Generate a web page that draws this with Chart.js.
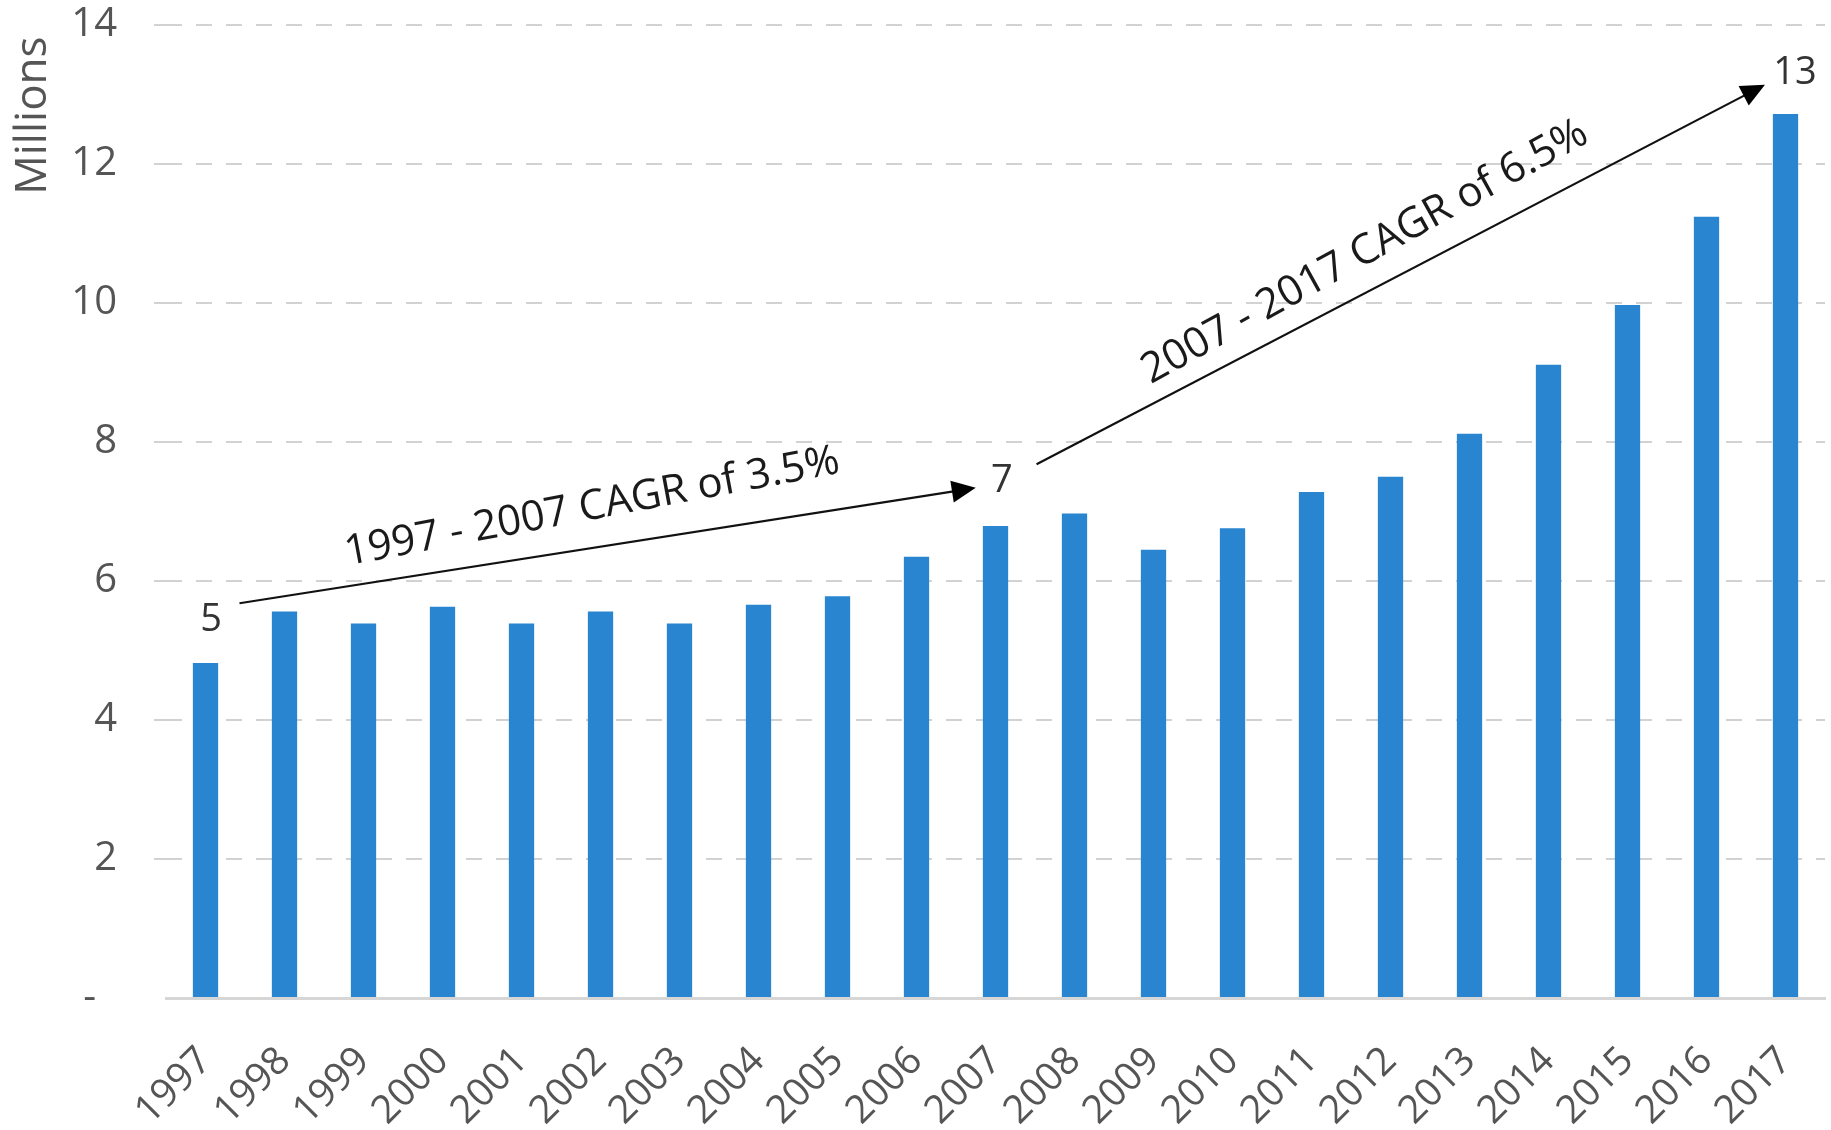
<!DOCTYPE html>
<html>
<head>
<meta charset="utf-8">
<script src="https://cdn.jsdelivr.net/npm/chart.js@4/dist/chart.umd.min.js"></script>
<style>
  html, body { margin: 0; padding: 0; background: #ffffff; }
  canvas { display: block; }
</style>
</head>
<body>
<canvas id="chart" width="1831" height="1130"></canvas>
<script>
// yearly totals, in millions
const years = ['1997', '1998', '1999', '2000', '2001', '2002', '2003', '2004', '2005', '2006', '2007',
               '2008', '2009', '2010', '2011', '2012', '2013', '2014', '2015', '2016', '2017'];
const totals = [4.82, 5.56, 5.39, 5.63, 5.39, 5.56, 5.39, 5.66, 5.78, 6.35, 6.79,
                6.97, 6.45, 6.76, 7.28, 7.50, 8.12, 9.11, 9.97, 11.24, 12.72];
const yTicks = [0, 2, 4, 6, 8, 10, 12, 14];

// growth arrows: [startIndex, startValue, endIndex, endValue]
const arrowSpans = [
  [0.43, 5.68, 9.75, 7.34],
  [10.52, 7.68, 19.74, 13.14]
];
const arrowLabels = ['1997 - 2007 CAGR of 3.5%', '2007 - 2017 CAGR of 6.5%'];
// rounded totals shown beside the arrow ends: [index into totals, x offset (categories), y offset (millions)]
const pointLabels = [[0, 0.07, 0.61], [10, 0.08, 0.64], [20, 0.12, 0.59]];

const FONT = "'Open Sans', 'Liberation Sans', sans-serif";

const cagrArrows = {
  id: 'cagrArrows',
  afterDatasetsDraw(chart) {
    const { ctx, scales: { x, y } } = chart;
    ctx.save();

    arrowSpans.forEach((s, i) => {
      const x1 = x.getPixelForValue(s[0]), y1 = y.getPixelForValue(s[1]);
      const x2 = x.getPixelForValue(s[2]), y2 = y.getPixelForValue(s[3]);
      const ang = Math.atan2(y2 - y1, x2 - x1);
      const head = 24;

      ctx.strokeStyle = '#111';
      ctx.lineWidth = 2.2;
      ctx.beginPath();
      ctx.moveTo(x1, y1);
      ctx.lineTo(x2 - Math.cos(ang) * head * 0.8, y2 - Math.sin(ang) * head * 0.8);
      ctx.stroke();

      ctx.fillStyle = '#000';
      ctx.beginPath();
      ctx.moveTo(x2, y2);
      ctx.lineTo(x2 - head * Math.cos(ang) + 11 * Math.sin(ang), y2 - head * Math.sin(ang) - 11 * Math.cos(ang));
      ctx.lineTo(x2 - head * Math.cos(ang) - 11 * Math.sin(ang), y2 - head * Math.sin(ang) + 11 * Math.cos(ang));
      ctx.closePath();
      ctx.fill();

      // label sits above the arrow, slightly steeper than the line
      const mx = (x1 + x2) / 2 + (i === 0 ? -8 : -18);
      const my = (y1 + y2) / 2 + (i === 0 ? 2 : 10);
      const tilt = ang - (i === 0 ? 0.03 : 0.025);
      ctx.translate(mx, my);
      ctx.rotate(tilt);
      ctx.font = `42px ${FONT}`;
      ctx.fillStyle = '#1a1a1a';
      ctx.textAlign = 'center';
      ctx.textBaseline = 'bottom';
      ctx.fillText(arrowLabels[i], 0, i === 0 ? -20 : -16);
      ctx.setTransform(1, 0, 0, 1, 0, 0);
    });

    ctx.font = `38px ${FONT}`;
    ctx.fillStyle = '#333';
    ctx.textAlign = 'center';
    ctx.textBaseline = 'middle';
    pointLabels.forEach(([idx, dx, dy]) => {
      const px = x.getPixelForValue(idx + dx);
      const py = y.getPixelForValue(totals[idx] + dy);
      ctx.fillText(String(Math.round(totals[idx])), px, py);
    });

    ctx.restore();
  }
};

new Chart(document.getElementById('chart'), {
  type: 'bar',
  data: {
    labels: years,
    datasets: [{
      data: totals,
      backgroundColor: '#2a85d0',
      barPercentage: 0.32,
      categoryPercentage: 1
    }]
  },
  options: {
    responsive: false,
    animation: false,
    devicePixelRatio: 1,
    layout: { padding: { top: 0, right: 6, left: 0, bottom: 0 } },
    plugins: {
      legend: { display: false },
      tooltip: { enabled: false }
    },
    scales: {
      x: {
        afterFit(axis) {
          axis.height = 132;
          axis.paddingLeft = 0;
          axis.paddingRight = 0;
        },
        grid: { display: false },
        border: { display: true, color: '#d6d6d6', width: 3 },
        ticks: {
          color: '#555',
          font: { family: FONT, size: 39 },
          minRotation: 45,
          maxRotation: 45,
          padding: 32
        }
      },
      y: {
        min: 0,
        max: 14,
        afterBuildTicks(axis) {
          axis.ticks = yTicks.map(v => ({ value: v }));
        },
        // fixed axis box so the plot starts where the labels end
        afterFit(axis) {
          axis.width = 166;
          axis.paddingTop = 25;
          axis.paddingBottom = 25;
        },
        grid: {
          color: ctx => ctx.tick && ctx.tick.value === 0 ? 'rgba(0,0,0,0)' : '#d2d2d2',
          lineWidth: 2,
          drawTicks: true,
          tickLength: 12,
          tickBorderDash: [16, 14]
        },
        border: { display: false, dash: [16, 14] },
        ticks: {
          color: '#555',
          font: { family: FONT, size: 40 },
          padding: 37,
          callback: v => v === 0 ? '-  ' : String(v)
        },
        title: {
          display: true,
          text: 'Millions ',
          align: 'end',
          color: '#555',
          font: { family: FONT, size: 44, lineHeight: 1 },
          padding: { top: 11, bottom: 16 }
        }
      }
    }
  },
  plugins: [cagrArrows]
});
</script>
</body>
</html>
